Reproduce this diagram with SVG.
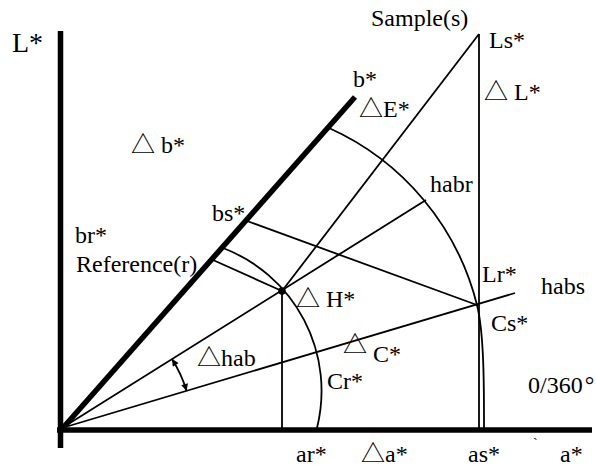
<svg xmlns="http://www.w3.org/2000/svg" width="596" height="466" viewBox="0 0 596 466">
<style>
text{font-family:'Liberation Serif','Noto Sans CJK JP','DejaVu Sans',serif;font-size:24px;fill:#000}
.big{font-size:28px}
.thick{stroke:#000;stroke-width:5.5;fill:none}
.thin{stroke:#000;stroke-width:1.8;fill:none}
</style>
<defs>
<marker id="ah" viewBox="0 0 10 10" refX="10" refY="5" markerWidth="8" markerHeight="7" markerUnits="userSpaceOnUse" orient="auto-start-reverse">
<path d="M0,0 L10,5 L0,10 z" fill="#000"/>
</marker>
</defs>
<rect width="596" height="466" fill="#fff"/>
<g id="axes">
<line class="thick" x1="60.5" y1="31" x2="60.5" y2="448" stroke-width="6"/>
<line class="thick" x1="57" y1="430" x2="592" y2="430"/>
<line class="thick" x1="62" y1="429" x2="355" y2="97"/>
</g>
<g id="connectors">
<line class="thin" x1="62" y1="428" x2="515" y2="293"/>
<line class="thin" x1="62" y1="428" x2="426" y2="200"/>
<line class="thin" x1="282" y1="291" x2="479" y2="34"/>
<line class="thin" x1="479" y1="34" x2="479" y2="428"/>
<line class="thin" x1="247" y1="221" x2="477" y2="305"/>
<line class="thin" x1="213" y1="260" x2="282" y2="291"/>
<line class="thin" x1="282" y1="291" x2="282" y2="428"/>
<path class="thin" d="M223,248 A153,153 0 0 1 317,428"/>
<path class="thin" d="M329,128 A264,264 0 0 1 477,305 C484.3,334 484,390 484,428"/>
<path class="thin" d="M172,359 A130,130 0 0 1 186.6,390.9" stroke-width="1.5" marker-start="url(#ah)" marker-end="url(#ah)"/>
<circle cx="282" cy="291" r="3.8" fill="#000"/>
</g>
<g id="labels">
<text class="big" x="12" y="52">L*</text>
<text x="371" y="26">Sample(s)</text>
<text x="489" y="48">Ls*</text>
<text x="484" y="100">△ L*</text>
<text x="353" y="87">b*</text>
<text x="359" y="117">△E*</text>
<text x="131" y="153">△ b*</text>
<text x="430" y="192">habr</text>
<text x="212" y="221">bs*</text>
<text x="75" y="243">br*</text>
<text x="76" y="272">Reference(r)</text>
<text x="296" y="307">△ H*</text>
<text x="482" y="282">Lr*</text>
<text x="541" y="294">habs</text>
<text x="491" y="331">Cs*</text>
<text x="343" y="353">△ <tspan dy="9">C*</tspan></text>
<text x="197" y="366">△hab</text>
<text x="327" y="389">Cr*</text>
<text x="528" y="393" word-spacing="-4">0/360 °</text>
<text x="296" y="462">ar*</text>
<text x="361" y="462">△a*</text>
<text x="468" y="462">as*</text>
<text x="560" y="462">a*</text>
<text x="533" y="448" style="font-size:14px">`</text>
</g>
</svg>
